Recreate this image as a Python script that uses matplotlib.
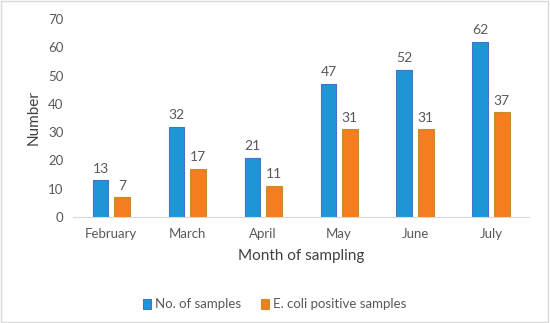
import matplotlib
matplotlib.use("Agg")
import matplotlib.pyplot as plt
import numpy as np

months = ["February", "March", "April", "May", "June", "July"]
samples = [13, 32, 21, 47, 52, 62]
positives = [7, 17, 11, 31, 31, 37]

plt.rcParams['font.family'] = ['Lato', 'DejaVu Sans']
gray = '#595959'

fig = plt.figure(figsize=(5.5, 3.23), dpi=100)
ax = fig.add_axes([0.133, 0.328, 0.829, 0.613])

x = np.arange(len(months))
w = 0.21
off = 0.14
b1 = ax.bar(x - off, samples, w, color='#1E96D6', edgecolor='#4472C4', linewidth=0.8, label='No. of samples')
b2 = ax.bar(x + off, positives, w, color='#F57C1F', edgecolor='#C0902A', linewidth=0.8, label='E. coli positive samples')
for rects, vals in ((b1, samples), (b2, positives)):
    for r, v in zip(rects, vals):
        ax.text(r.get_x() + r.get_width() / 2, v + 2, str(v), ha='center', va='bottom', fontsize=10, color=gray)

ax.set_xlim(-0.5, len(months) - 0.5)
ax.set_ylim(0, 70)
ax.set_yticks(range(0, 71, 10))
ax.set_xticks(x)
ax.set_xticklabels(months)
ax.tick_params(axis='both', length=0, labelsize=9.5, labelcolor=gray)
ax.tick_params(axis='y', pad=7)
ax.tick_params(axis='x', pad=8)
for s in ['top', 'right', 'left']:
    ax.spines[s].set_visible(False)
ax.spines['bottom'].set_color('#D9D9D9')
ax.set_ylabel('Number', fontsize=11, color='#404040', labelpad=5)
ax.set_xlabel('Month of sampling', fontsize=11, color='#404040', labelpad=6)

fig.legend(loc='center', bbox_to_anchor=(0.5, 0.058), ncol=2, frameon=False, fontsize=9.5,
           handlelength=0.6, handleheight=0.8, columnspacing=1.5, handletextpad=0.3, labelcolor=gray)

fig.patches.append(plt.Rectangle((0.002, 0.003), 0.995, 0.994, transform=fig.transFigure,
                                 fill=False, edgecolor='#D9D9D9', linewidth=1))
fig.savefig('out.png', dpi=100)
